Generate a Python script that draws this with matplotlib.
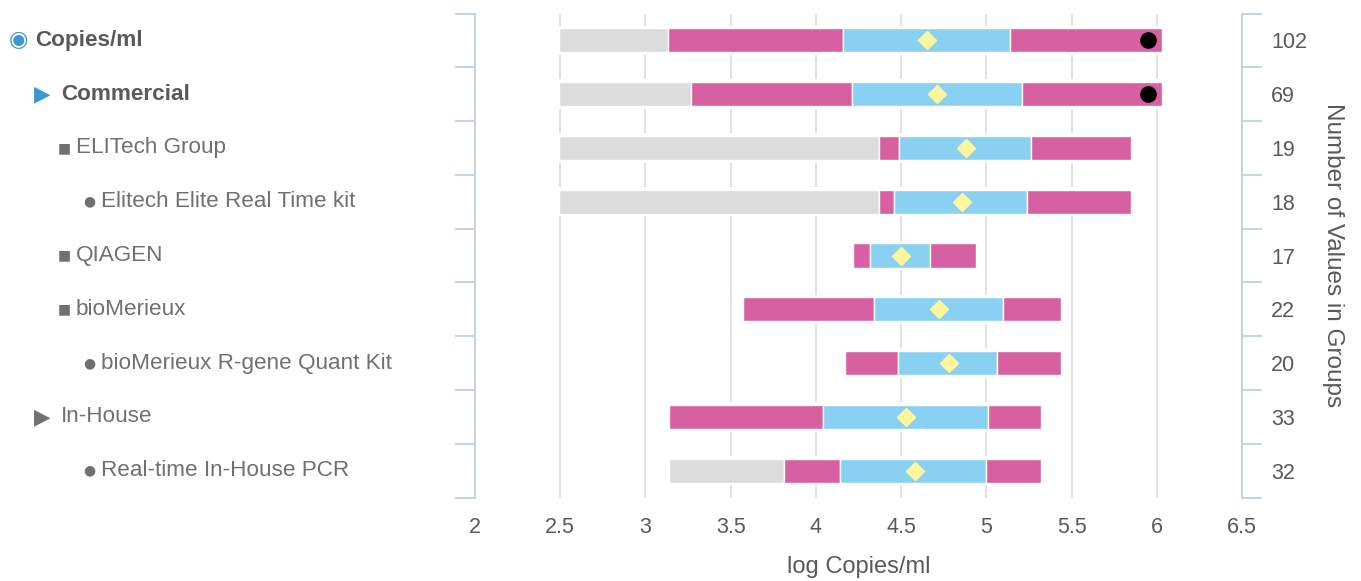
import numpy as np
import matplotlib
matplotlib.use("Agg")
import matplotlib.pyplot as plt
from matplotlib.transforms import blended_transform_factory

plt.rcParams['font.family'] = ['Liberation Sans', 'DejaVu Sans']

# rows, top to bottom
labels = ['Copies/ml', 'Commercial', 'ELITech Group', 'Elitech Elite Real Time kit',
          'QIAGEN', 'bioMerieux', 'bioMerieux R-gene Quant Kit', 'In-House',
          'Real-time In-House PCR']
symbols = ['\u25C9', '\u25B6', '\u25A0', '\u25CF', '\u25A0', '\u25A0', '\u25CF', '\u25B6', '\u25CF']
levels = [0, 1, 2, 3, 2, 2, 3, 1, 3]
bold = [True, True, False, False, False, False, False, False, False]
counts = [102, 69, 19, 18, 17, 22, 20, 33, 32]

# log copies/ml
lo = [2.49, 2.49, 2.49, 2.49, 4.22, 3.57, 4.17, 3.14, 3.14]      # start of bar
p_lo = [3.13, 3.27, 4.37, 4.37, 4.22, 3.57, 4.17, 3.14, 3.81]    # end of grey part
q1 = [4.16, 4.21, 4.49, 4.46, 4.32, 4.34, 4.48, 4.04, 4.14]
q3 = [5.14, 5.21, 5.26, 5.24, 4.67, 5.10, 5.06, 5.01, 5.00]
hi = [6.03, 6.03, 5.85, 5.85, 4.94, 5.44, 5.44, 5.32, 5.32]
median = [4.65, 4.71, 4.88, 4.86, 4.50, 4.72, 4.78, 4.53, 4.58]
outlier = [5.95, 5.95, np.nan, np.nan, np.nan, np.nan, np.nan, np.nan, np.nan]

axis_col = '#c5d3e6'
text_col = '#595959'
grey = '#dcdcdc'
pink = '#d660a2'
blue = '#8ad0f2'

lo, p_lo, q1, q3, hi = map(np.array, (lo, p_lo, q1, q3, hi))
y = np.arange(len(labels))

fig = plt.figure(figsize=(13.61, 5.81), dpi=100)
top_px, bot_px = 13.5, 497.5
ax = fig.add_axes([475 / 1361, 1 - bot_px / 581, (1242 - 475) / 1361, (bot_px - top_px) / 581])

h = 0.447
# white backing so gridlines stop short of the bars
ax.barh(y, hi - lo, left=lo, height=h + 0.1, color='white', zorder=2)
ax.barh(y, p_lo - lo, left=lo, height=h, color=grey, edgecolor='white', linewidth=1, zorder=3)
ax.barh(y, q1 - p_lo, left=p_lo, height=h, color=pink, edgecolor='white', linewidth=1, zorder=3)
ax.barh(y, q3 - q1, left=q1, height=h, color=blue, edgecolor='white', linewidth=1, zorder=3)
ax.barh(y, hi - q3, left=q3, height=h, color=pink, edgecolor='white', linewidth=1, zorder=3)
ax.plot(median, y, linestyle='none', marker='D', markersize=9, color='#fff59d', zorder=4)
ax.plot(outlier, y, linestyle='none', marker='o', markersize=11, color='black', zorder=4)

ax.set_xlim(2, 6.5)
ax.set_ylim(len(labels) - 0.5, -0.5)
ax.set_xticks(np.arange(2, 6.51, 0.5))
ax.set_xticklabels(['2', '2.5', '3', '3.5', '4', '4.5', '5', '5.5', '6', '6.5'])
ax.tick_params(axis='x', length=0, pad=14, labelsize=15.5, labelcolor=text_col)
ax.grid(axis='x', color='#d9d9d9', linewidth=1.1, zorder=0)
ax.set_axisbelow(True)
ax.set_xlabel('log Copies/ml', fontsize=17, color=text_col, labelpad=13)

bounds = np.arange(-0.5, len(labels), 1.0)
ax.set_yticks(bounds)
ax.set_yticklabels([])
ax.tick_params(axis='y', length=14.5, width=1.5, color=axis_col, direction='out')
for s in ['top', 'bottom', 'right']:
    ax.spines[s].set_visible(False)
ax.spines['left'].set_color(axis_col)
ax.spines['left'].set_linewidth(1.5)

ax2 = ax.twinx()
ax2.set_ylim(ax.get_ylim())
ax2.set_yticks(bounds)
ax2.set_yticklabels([])
ax2.set_yticks(y, minor=True)
ax2.set_yticklabels([str(c) for c in counts], minor=True)
ax2.tick_params(axis='y', which='major', length=14.5, width=1.5, color=axis_col, direction='out')
ax2.tick_params(axis='y', which='minor', length=0, pad=21, labelsize=15.5, labelcolor=text_col)
for s in ['top', 'bottom', 'left']:
    ax2.spines[s].set_visible(False)
ax2.spines['right'].set_color(axis_col)
ax2.spines['right'].set_linewidth(1.5)
ax2.set_ylabel('Number of Values in Groups', fontsize=17.5, color=text_col,
               rotation=270, va='center', ha='center')
ax2.yaxis.set_label_coords(1.1186, 0.5)

# hierarchical row labels on the left
trans = blended_transform_factory(fig.transFigure, ax.transData)
sym_x = [9, 34, 58, 83]
txt_x = [35, 61, 76, 101]
sym_size = {'\u25C9': 16, '\u25B6': 15.5, '\u25A0': 10, '\u25CF': 10}
for i, lab in enumerate(labels):
    lv = levels[i]
    sc = '#3a97d4' if bold[i] else '#707070'
    fig.text(sym_x[lv] / 1361, y[i], symbols[i], transform=trans, ha='left', va='center',
             fontsize=sym_size[symbols[i]], color=sc, family=['DejaVu Sans'])
    fig.text(txt_x[lv] / 1361, y[i], lab, transform=trans, ha='left', va='center',
             fontsize=16.2, color=text_col if bold[i] else '#707070',
             fontweight='bold' if bold[i] else 'normal')

fig.savefig('out.png', dpi=100)
